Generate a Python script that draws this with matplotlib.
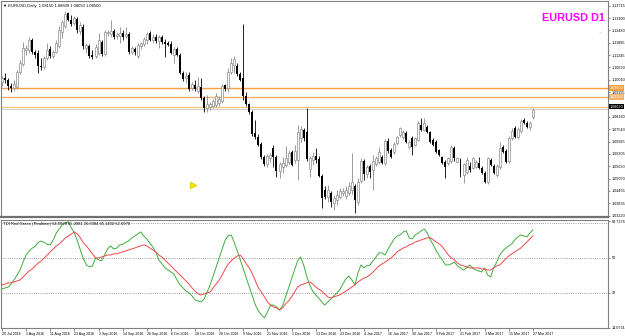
import numpy as np
import matplotlib
matplotlib.use("Agg")
import matplotlib.pyplot as plt

plt.rcParams["font.family"] = ["Liberation Sans", "DejaVu Sans"]

# ---------------- data ----------------
opens = [1.0990,1.1010,1.1000,1.0970,1.0960,1.0965,1.1040,1.1080,1.1150,1.1150,
         1.1200,1.1140,1.1135,1.1070,1.1065,1.1110,1.1155,1.1120,1.1140,1.1170,
         1.1240,1.1270,1.1335,1.1300,1.1285,1.1305,1.1245,1.1265,1.1160,1.1170,
         1.1125,1.1120,1.1135,1.1190,1.1130,1.1235,1.1230,1.1245,1.1220,1.1220,
         1.1235,1.1220,1.1230,1.1140,1.1155,1.1120,1.1170,1.1180,1.1200,1.1235,
         1.1200,1.1215,1.1195,1.1215,1.1190,1.1185,1.1180,1.1125,1.1155,1.1125,
         1.1035,1.1010,1.1025,1.0960,1.0975,1.0945,1.0965,1.0910,1.0860,1.0865,
         1.0870,1.0875,1.0885,1.0895,1.0975,1.0960,1.1040,1.1075,1.1070,1.1030,
         1.1010,1.0920,1.0880,1.0840,1.0735,1.0715,1.0680,1.0615,1.0580,1.0610,
         1.0660,1.0615,1.0545,1.0565,1.0575,1.0590,1.0640,1.0600,1.0600,1.0710,
         1.0750,1.0740,1.0555,1.0600,1.0620,1.0605,1.0520,1.0450,1.0415,1.0435,
         1.0385,1.0400,1.0415,1.0435,1.0420,1.0435,1.0450,1.0470,1.0390,1.0495,
         1.0595,1.0530,1.0570,1.0550,1.0580,1.0590,1.0615,1.0585,1.0695,1.0650,
         1.0640,1.0685,1.0725,1.0715,1.0735,1.0665,1.0710,1.0675,1.0700,1.0775,
         1.0750,1.0765,1.0740,1.0700,1.0690,1.0650,1.0615,1.0590,1.0585,1.0595,
         1.0660,1.0590,1.0600,1.0525,1.0540,1.0570,1.0560,1.0565,1.0585,1.0560,
         1.0535,1.0490,1.0600,1.0570,1.0525,1.0565,1.0665,1.0645,1.0595,1.0710,
         1.0760,1.0715,1.0745,1.0800,1.0785,1.0765,1.0815]
highs = [1.1020,1.1035,1.1010,1.0985,1.1000,1.1050,1.1100,1.1190,1.1175,1.1215,
         1.1210,1.1150,1.1150,1.1110,1.1120,1.1185,1.1170,1.1150,1.1200,1.1270,
         1.1300,1.1345,1.1340,1.1325,1.1320,1.1315,1.1290,1.1280,1.1185,1.1180,
         1.1150,1.1180,1.1235,1.1200,1.1250,1.1250,1.1300,1.1255,1.1240,1.1265,
         1.1250,1.1265,1.1240,1.1170,1.1165,1.1185,1.1190,1.1215,1.1240,1.1245,
         1.1230,1.1230,1.1225,1.1225,1.1205,1.1195,1.1195,1.1165,1.1165,1.1135,
         1.1045,1.1040,1.1040,1.0990,1.1000,1.1015,1.1010,1.0920,1.0925,1.0890,
         1.0905,1.0935,1.0920,1.0980,1.0980,1.1060,1.1110,1.1120,1.1085,1.1040,
         1.1280,1.0940,1.0885,1.0850,1.0800,1.0730,1.0690,1.0625,1.0630,1.0635,
         1.0675,1.0625,1.0590,1.0615,1.0670,1.0650,1.0650,1.0675,1.0775,1.0770,
         1.0760,1.0860,1.0620,1.0640,1.0660,1.0620,1.0530,1.0470,1.0475,1.0445,
         1.0425,1.0450,1.0460,1.0460,1.0470,1.0490,1.0635,1.0480,1.0510,1.0610,
         1.0605,1.0575,1.0580,1.0625,1.0620,1.0665,1.0625,1.0705,1.0710,1.0660,
         1.0690,1.0720,1.0765,1.0750,1.0745,1.0700,1.0720,1.0715,1.0795,1.0810,
         1.0810,1.0775,1.0745,1.0710,1.0700,1.0655,1.0620,1.0600,1.0615,1.0675,
         1.0670,1.0615,1.0610,1.0585,1.0615,1.0590,1.0615,1.0600,1.0615,1.0570,
         1.0545,1.0615,1.0610,1.0580,1.0580,1.0690,1.0675,1.0655,1.0720,1.0760,
         1.0770,1.0765,1.0805,1.0810,1.0795,1.0795,1.0860]
lows = [1.0970,1.0985,1.0950,1.0940,1.0945,1.0955,1.1030,1.1070,1.1125,1.1135,
        1.1130,1.1110,1.1035,1.1050,1.1055,1.1100,1.1110,1.1110,1.1135,1.1160,
        1.1210,1.1260,1.1295,1.1270,1.1275,1.1235,1.1230,1.1155,1.1135,1.1110,
        1.1105,1.1110,1.1125,1.1120,1.1120,1.1220,1.1215,1.1205,1.1205,1.1185,
        1.1200,1.1210,1.1130,1.1130,1.1125,1.1110,1.1155,1.1170,1.1180,1.1195,
        1.1185,1.1185,1.1160,1.1180,1.1115,1.1170,1.1130,1.1085,1.1120,1.1030,
        1.0995,1.0985,1.0945,1.0950,1.0945,1.0935,1.0900,1.0840,1.0840,1.0850,
        1.0860,1.0865,1.0870,1.0885,1.0945,1.0940,1.1030,1.1035,1.1020,1.0995,
        1.0900,1.0870,1.0830,1.0720,1.0705,1.0670,1.0605,1.0570,1.0565,1.0590,
        1.0565,1.0515,1.0510,1.0535,1.0565,1.0580,1.0570,1.0585,1.0500,1.0690,
        1.0695,1.0595,1.0515,1.0575,1.0585,1.0515,1.0360,1.0405,1.0390,1.0365,
        1.0350,1.0375,1.0405,1.0420,1.0405,1.0425,1.0430,1.0335,1.0375,1.0485,
        1.0500,1.0510,1.0510,1.0450,1.0570,1.0580,1.0580,1.0575,1.0635,1.0610,
        1.0630,1.0675,1.0715,1.0705,1.0685,1.0655,1.0625,1.0670,1.0695,1.0745,
        1.0745,1.0735,1.0685,1.0670,1.0635,1.0620,1.0580,1.0510,1.0575,1.0585,
        1.0595,1.0585,1.0515,1.0485,1.0530,1.0540,1.0555,1.0560,1.0555,1.0530,
        1.0485,1.0480,1.0570,1.0530,1.0515,1.0555,1.0635,1.0585,1.0585,1.0700,
        1.0710,1.0705,1.0735,1.0780,1.0760,1.0750,1.0805]
closes = [1.1010,1.1000,1.0970,1.0960,1.0980,1.1040,1.1085,1.1160,1.1160,1.1200,
          1.1140,1.1125,1.1070,1.1065,1.1110,1.1150,1.1120,1.1140,1.1185,1.1250,
          1.1290,1.1330,1.1300,1.1280,1.1310,1.1250,1.1275,1.1170,1.1175,1.1120,
          1.1115,1.1165,1.1200,1.1130,1.1240,1.1240,1.1245,1.1215,1.1230,1.1235,
          1.1215,1.1230,1.1140,1.1160,1.1140,1.1175,1.1185,1.1205,1.1230,1.1200,
          1.1215,1.1195,1.1215,1.1190,1.1180,1.1175,1.1135,1.1155,1.1125,1.1035,
          1.1005,1.1020,1.0955,1.0980,1.0955,1.0970,1.0910,1.0860,1.0880,1.0880,
          1.0895,1.0920,1.0905,1.0970,1.0955,1.1040,1.1085,1.1105,1.1030,1.1000,
          1.0920,1.0880,1.0840,1.0730,1.0715,1.0675,1.0615,1.0580,1.0620,1.0625,
          1.0615,1.0545,1.0580,1.0585,1.0610,1.0635,1.0575,1.0645,1.0740,1.0755,
          1.0710,1.0605,1.0610,1.0620,1.0600,1.0520,1.0410,1.0415,1.0450,1.0390,
          1.0410,1.0425,1.0445,1.0445,1.0450,1.0470,1.0490,1.0400,1.0490,1.0595,
          1.0530,1.0565,1.0540,1.0595,1.0610,1.0640,1.0585,1.0695,1.0645,1.0615,
          1.0680,1.0715,1.0760,1.0740,1.0690,1.0690,1.0665,1.0710,1.0785,1.0750,
          1.0785,1.0740,1.0690,1.0675,1.0640,1.0625,1.0585,1.0565,1.0610,1.0665,
          1.0610,1.0610,1.0535,1.0580,1.0600,1.0550,1.0610,1.0590,1.0560,1.0535,
          1.0490,1.0610,1.0575,1.0535,1.0570,1.0660,1.0640,1.0590,1.0710,1.0745,
          1.0715,1.0755,1.0795,1.0785,1.0765,1.0785,1.0850]

tdi_green = [34.0,34.6,35.0,36.6,38.7,41.3,43.8,48.0,51.5,53.6,
             55.0,56.0,58.0,58.7,58.0,57.0,56.7,59.3,62.8,65.0,
             67.0,68.0,68.5,65.4,62.8,58.7,54.0,49.5,46.4,45.4,
             45.9,50.0,49.0,48.5,51.5,54.6,56.2,54.6,55.0,56.7,
             57.0,58.0,58.7,60.3,61.3,62.3,63.4,61.3,59.8,57.7,
             55.6,53.0,49.0,47.0,45.0,43.8,42.8,41.8,38.7,36.1,
             34.6,33.0,32.0,30.5,28.4,27.9,27.4,28.9,32.5,36.1,
             40.7,45.4,50.0,54.6,59.3,61.3,61.8,58.0,53.6,49.0,
             44.3,39.7,35.0,30.5,25.8,22.8,20.7,19.2,22.2,25.8,
             25.8,24.8,23.3,25.3,30.0,34.6,39.2,43.8,48.5,50.5,
             46.4,40.7,36.1,33.0,31.0,29.4,27.4,25.8,27.4,28.9,
             30.5,32.0,33.6,36.6,39.2,40.7,38.7,36.1,42.3,46.4,
             44.9,46.0,46.4,48.5,50.5,52.6,52.6,51.5,54.6,57.2,
             59.8,61.3,61.8,63.4,64.0,60.3,59.8,61.8,62.8,63.9,
             64.9,62.8,59.3,56.7,53.6,51.0,49.0,46.4,46.4,47.0,
             47.9,45.9,44.9,43.8,44.9,46.4,44.9,43.8,43.3,42.8,
             44.9,41.3,40.2,44.9,47.9,51.5,53.6,55.0,56.2,57.2,
             59.3,60.8,61.8,61.3,60.8,62.8,64.4]
tdi_red = [36.1,36.6,37.2,37.2,37.7,38.2,38.7,40.2,41.8,43.3,
           44.3,45.9,47.4,48.5,50.0,51.5,53.1,54.6,56.2,57.2,
           58.7,60.3,61.3,62.3,63.4,62.3,60.3,57.7,56.2,54.1,
           52.1,50.0,50.0,50.5,51.0,51.5,51.5,52.1,52.1,52.6,
           53.1,53.6,54.1,54.6,55.1,55.7,56.2,56.7,56.2,55.1,
           54.1,53.1,51.5,50.5,49.0,47.4,45.9,44.3,42.8,41.3,
           39.7,38.2,36.6,34.6,33.0,31.5,31.0,31.5,32.0,32.5,
           34.6,36.6,38.7,41.3,44.3,46.9,48.5,50.0,51.0,51.5,
           49.5,46.9,44.9,41.8,38.2,34.6,32.5,30.0,27.4,25.8,
           24.8,24.3,23.3,24.3,26.4,27.9,30.0,32.5,35.0,36.1,
           36.6,37.2,37.7,36.6,35.1,34.0,33.0,31.5,30.0,29.4,
           30.0,30.5,31.0,32.0,33.0,34.0,35.1,36.1,37.7,38.7,
           39.7,40.2,41.3,42.8,44.3,45.9,46.9,47.9,49.0,50.0,
           51.5,53.1,54.1,55.1,55.7,56.7,57.2,58.2,58.7,59.3,
           59.8,60.3,60.3,59.3,58.2,57.2,55.7,53.6,51.5,50.0,
           49.0,47.4,46.4,45.9,45.4,44.9,44.9,44.9,44.9,44.3,
           44.3,43.8,43.8,44.9,45.9,46.4,47.9,49.5,51.0,52.1,
           53.1,54.1,55.1,56.7,58.2,59.8,61.3]

date_labels = ["20 Jul 2016", "1 Aug 2016", "11 Aug 2016", "23 Aug 2016", "2 Sep 2016",
               "14 Sep 2016", "26 Sep 2016", "6 Oct 2016", "18 Oct 2016", "28 Oct 2016",
               "9 Nov 2016", "21 Nov 2016", "1 Dec 2016", "13 Dec 2016", "23 Dec 2016",
               "4 Jan 2017", "16 Jan 2017", "30 Jan 2017", "9 Feb 2017", "21 Feb 2017",
               "3 Mar 2017", "15 Mar 2017", "27 Mar 2017"]
date_label_bars = list(range(0, 177, 8))

# the 1.08775 label is hidden behind the current-price box, as in the reference
price_ticks = [1.13715, 1.13100, 1.12480, 1.11865, 1.11245, 1.10630, 1.10010, 1.09395,
               1.08160, 1.07540, 1.06925, 1.06305, 1.05690, 1.05070, 1.04455,
               1.03835, 1.03220]
level_prices = [1.0960, 1.0915, 1.08675]
level_colors = ["#f5a040", "#f2b06a", "#f8c880"]
bid_price = 1.0855
current_label = 1.0867
tdi_levels = [68, 50, 32]
tdi_ticks = [14.0731, 32, 50, 68.7376]
tdi_tick_labels = ["14.0731", "32", "50", "68.7376"]
arrow_bar, arrow_price = 63.3, 1.0475

header = "\u25bc EURUSD,Daily  1.08150 1.08600 1.08050 1.08500"
tdi_title = "TDI Red Green (Realtime) 64.0978 65.2881 26.0384 65.1402 62.6978"

# ---------------- figure ----------------
W, H = 625, 336
fig = plt.figure(figsize=(W / 100, H / 100), dpi=100)
fig.patch.set_facecolor("white")

def frac(x0, y0, x1, y1):
    return [x0 / W, 1 - y1 / H, (x1 - x0) / W, (y1 - y0) / H]

ax = fig.add_axes(frac(1, 1, 608, 217))
axi = fig.add_axes(frac(1, 220, 608, 328))

o = np.array(opens); h = np.array(highs); l = np.array(lows); c = np.array(closes)
idx = np.arange(len(o))
up = c >= o
xlim = (-0.33, 200.9)
bull_col = "#8c8c8c"

ax.vlines(idx[up], l[up], h[up], color=bull_col, lw=0.6, zorder=2)
ax.vlines(idx[~up], l[~up], h[~up], color="black", lw=0.6, zorder=2)
body_up = np.maximum(c[up] - o[up], 0.0002)
ax.bar(idx[up], body_up, bottom=o[up], width=0.66, facecolor="white",
       edgecolor=bull_col, linewidth=0.5, zorder=3)
ax.bar(idx[~up], c[~up] - o[~up], bottom=o[~up], width=0.66, color="black",
       linewidth=0, zorder=3)

for p, col in zip(level_prices, level_colors):
    ax.axhline(p, color=col, lw=1.0, zorder=1)
ax.axhline(bid_price, color="#c8c8c8", lw=0.6, zorder=1)

ax.plot([arrow_bar], [arrow_price], marker=">", color="#f5f000", markersize=5,
        markeredgecolor="#e0d800", linestyle="none", zorder=4)

ax.set_xlim(*xlim)
ax.set_ylim(1.0315, 1.1395)
ax.set_xticks([])
ax.yaxis.tick_right()
ax.set_yticks(price_ticks)
ax.set_yticklabels([f"{p:.5f}" for p in price_ticks])
LBL = 2.7
ax.tick_params(axis="y", labelsize=LBL, length=1.5, width=0.5, pad=1,
               color="#606060", labelcolor="black")

for p, col in zip(level_prices[:2], level_colors[:2]):
    ax.text(1.0025, p, f"{p:.5f}", transform=ax.get_yaxis_transform(),
            fontsize=LBL, va="center", ha="left", color="white",
            bbox=dict(boxstyle="square,pad=0.15", facecolor=col, edgecolor="none"))
ax.text(1.0025, current_label, f"{current_label:.5f}", transform=ax.get_yaxis_transform(),
        fontsize=LBL, va="center", ha="left", color="white",
        bbox=dict(boxstyle="square,pad=0.15", facecolor="black", edgecolor="none"))

ax.text(0.004, 0.985, header, transform=ax.transAxes, fontsize=3.0, va="top", ha="left")
ax.text(0.995, 0.921, "EURUSD D1", transform=ax.transAxes, fontsize=7.8,
        fontweight="bold", color="#ff00ff", va="center", ha="right")
ax.text(0.993, 0.855, "\u00b7\u00b7\u00b7", transform=ax.transAxes, fontsize=4,
        color="#f0a040", va="center", ha="right")

for sp in ax.spines.values():
    sp.set_color("#808080"); sp.set_linewidth(0.8)
ax.spines["bottom"].set_linewidth(1.6)
ax.spines["bottom"].set_color("#707070")

# ---------------- indicator ----------------
axi.plot(idx, tdi_green, color="#3fae3f", lw=0.7, zorder=3)
axi.plot(idx, tdi_red, color="#f04848", lw=0.7, zorder=3)
for lv in tdi_levels:
    axi.axhline(lv, color="#808080", lw=0.6, linestyle=(0, (1, 1.6)), zorder=1)
axi.set_xlim(*xlim)
axi.set_ylim(14.0, 69.5)
axi.yaxis.tick_right()
axi.set_yticks(tdi_ticks)
axi.set_yticklabels(tdi_tick_labels)
axi.tick_params(axis="y", labelsize=LBL, length=1.5, width=0.5, pad=1, color="#606060")
axi.set_xticks(date_label_bars)
axi.set_xticklabels(date_labels, ha="left")
axi.tick_params(axis="x", labelsize=2.6, length=2, width=0.5, pad=1, color="#606060")
axi.text(0.004, 0.985, tdi_title, transform=axi.transAxes, fontsize=3.0, va="top", ha="left")
for sp in axi.spines.values():
    sp.set_color("#808080"); sp.set_linewidth(0.8)

fig.savefig("out.png", dpi=100, facecolor="white")
